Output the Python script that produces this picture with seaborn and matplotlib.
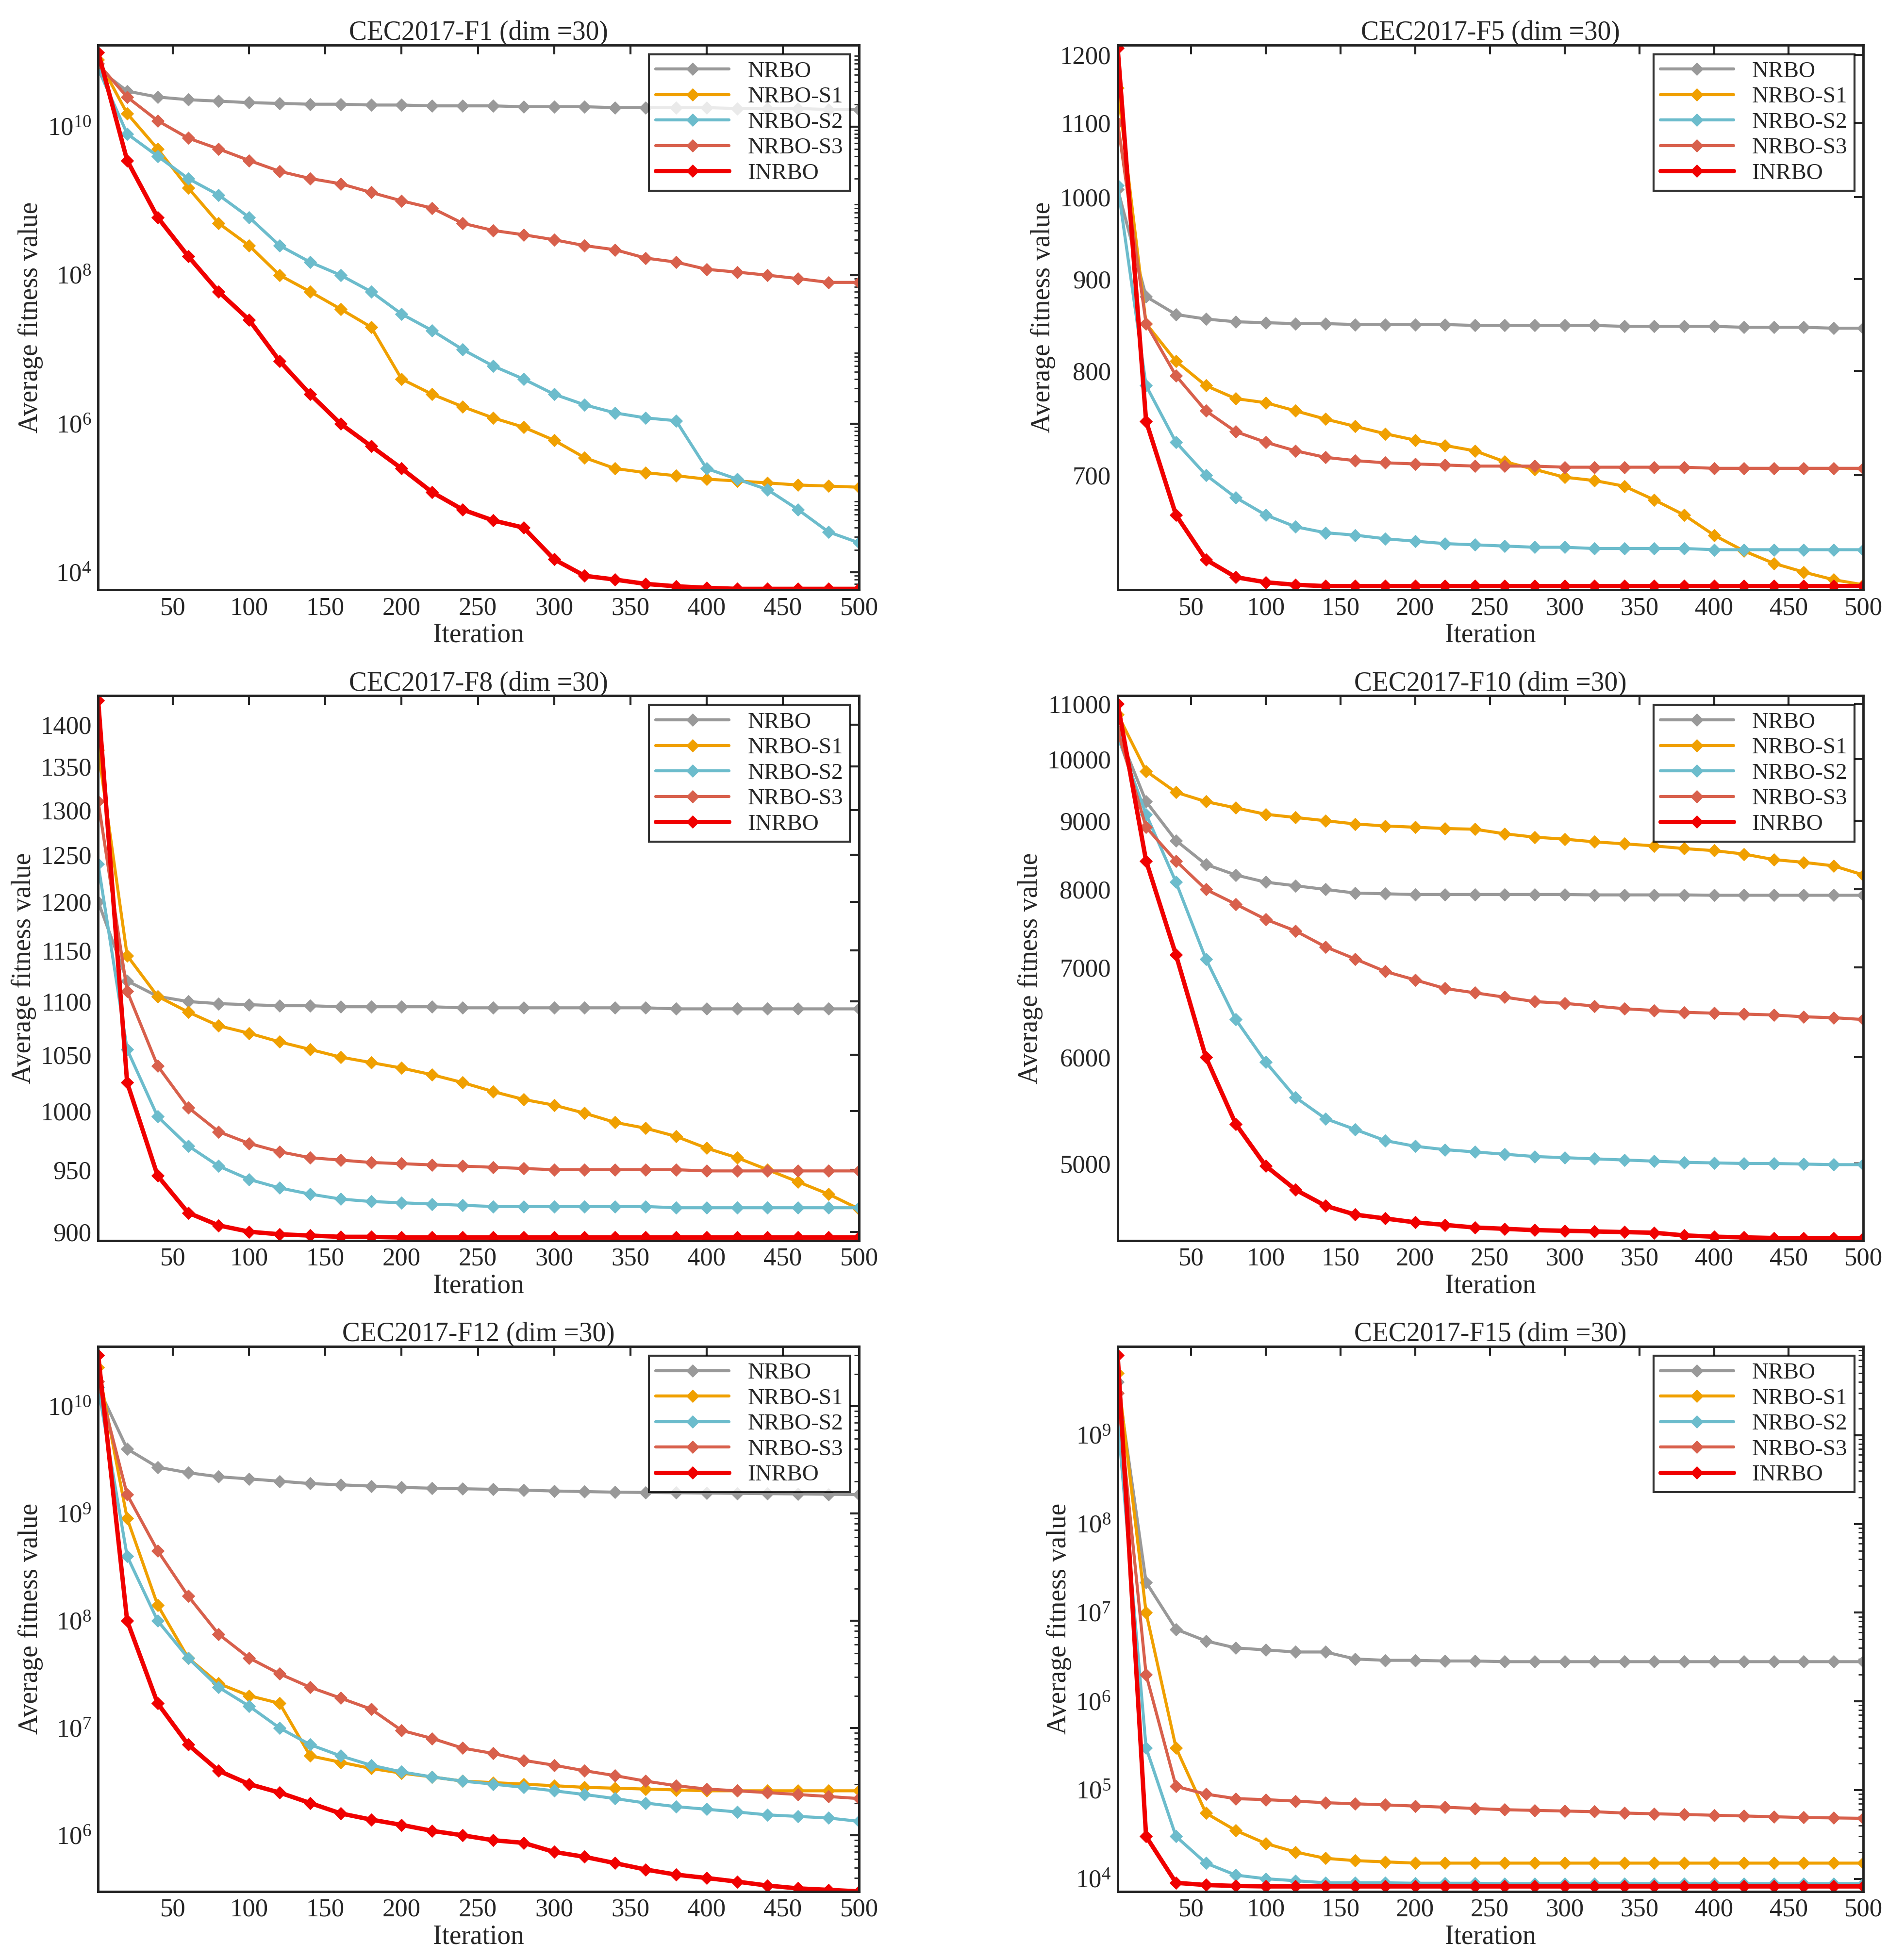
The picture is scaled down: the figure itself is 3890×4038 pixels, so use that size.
import matplotlib
matplotlib.use("Agg")
import matplotlib.pyplot as plt
import matplotlib.ticker as mticker
import numpy as np
import pandas as pd
import seaborn as sns

sns.set_style("white")
plt.rcParams['font.family'] = ['Liberation Serif', 'DejaVu Serif']
plt.rcParams['mathtext.fontset'] = 'stix'

iters = [1] + list(range(20, 501, 20))
algos = ['NRBO', 'NRBO-S1', 'NRBO-S2', 'NRBO-S3', 'INRBO']
colors = ['#999999', '#f0a000', '#6cbccc', '#d8604c', '#f00000']

# ---- CEC2017-F1 ----
f1_nrbo = [6e10, 3e10, 2.5e10, 2.3e10, 2.2e10, 2.1e10, 2.05e10, 2e10, 2e10, 1.95e10, 1.95e10, 1.9e10, 1.9e10,
           1.9e10, 1.85e10, 1.85e10, 1.85e10, 1.8e10, 1.8e10, 1.8e10, 1.8e10, 1.75e10, 1.75e10, 1.75e10, 1.7e10, 1.7e10]
f1_s1 = [8e10, 1.5e10, 5e9, 1.5e9, 5e8, 2.5e8, 1e8, 6e7, 3.5e7, 2e7, 4e6, 2.5e6, 1.7e6, 1.2e6, 9e5, 6e5, 3.5e5,
         2.5e5, 2.2e5, 2e5, 1.8e5, 1.7e5, 1.6e5, 1.5e5, 1.45e5, 1.4e5]
f1_s2 = [6e10, 8e9, 4e9, 2e9, 1.2e9, 6e8, 2.5e8, 1.5e8, 1e8, 6e7, 3e7, 1.8e7, 1e7, 6e6, 4e6, 2.5e6, 1.8e6, 1.4e6,
         1.2e6, 1.1e6, 2.5e5, 1.8e5, 1.3e5, 7e4, 3.5e4, 2.5e4]
f1_s3 = [7e10, 2.5e10, 1.2e10, 7e9, 5e9, 3.5e9, 2.5e9, 2e9, 1.7e9, 1.3e9, 1e9, 8e8, 5e8, 4e8, 3.5e8, 3e8, 2.5e8,
         2.2e8, 1.7e8, 1.5e8, 1.2e8, 1.1e8, 1e8, 9e7, 8e7, 8e7]
f1_inrbo = [1e11, 3.5e9, 6e8, 1.8e8, 6e7, 2.5e7, 7e6, 2.5e6, 1e6, 5e5, 2.5e5, 1.2e5, 7e4, 5e4, 4e4, 1.5e4, 9e3,
            8e3, 7e3, 6.5e3, 6.2e3, 6e3, 6e3, 6e3, 6e3, 6e3]

# ---- CEC2017-F5 ----
f5_nrbo = [1010, 880, 860, 855, 852, 851, 850, 850, 849, 849, 849, 849, 848, 848, 848, 848, 848, 847, 847, 847,
           847, 846, 846, 846, 845, 845]
f5_s1 = [1150, 850, 810, 785, 772, 768, 760, 752, 745, 738, 732, 727, 722, 712, 705, 698, 695, 690, 678, 665,
         648, 635, 625, 618, 612, 608]
f5_s2 = [1015, 785, 730, 700, 680, 665, 655, 650, 648, 645, 643, 641, 640, 639, 638, 638, 637, 637, 637, 637,
         636, 636, 636, 636, 636, 636]
f5_s3 = [1100, 850, 795, 760, 740, 730, 722, 716, 713, 711, 710, 709, 708, 708, 708, 707, 707, 707, 707, 707,
         706, 706, 706, 706, 706, 706]
f5_inrbo = [1210, 750, 665, 628, 614, 610, 608, 607, 607, 607, 607, 607, 607, 607, 607, 607, 607, 607, 607, 607,
            607, 607, 607, 607, 607, 607]

# ---- CEC2017-F8 ----
f8_nrbo = [1200, 1120, 1105, 1100, 1098, 1097, 1096, 1096, 1095, 1095, 1095, 1095, 1094, 1094, 1094, 1094, 1094,
           1094, 1094, 1093, 1093, 1093, 1093, 1093, 1093, 1093]
f8_s1 = [1370, 1145, 1105, 1090, 1077, 1070, 1062, 1055, 1048, 1043, 1038, 1032, 1025, 1017, 1010, 1005, 998, 990,
         985, 978, 968, 960, 950, 940, 930, 918]
f8_s2 = [1240, 1055, 995, 970, 953, 942, 935, 930, 926, 924, 923, 922, 921, 920, 920, 920, 920, 920, 920, 919,
         919, 919, 919, 919, 919, 919]
f8_s3 = [1310, 1110, 1040, 1003, 982, 972, 965, 960, 958, 956, 955, 954, 953, 952, 951, 950, 950, 950, 950, 950,
         949, 949, 949, 949, 949, 949]
f8_inrbo = [1430, 1025, 945, 915, 905, 900, 898, 897, 896, 896, 895.5, 895.5, 895.5, 895.5, 895.5, 895.5, 895.5,
            895.5, 895.5, 895.5, 895.5, 895.5, 895.5, 895.5, 895.5, 895.5]

# ---- CEC2017-F10 ----
f10_nrbo = [10500, 9300, 8700, 8350, 8200, 8100, 8050, 8000, 7950, 7940, 7930, 7930, 7930, 7930, 7930, 7930, 7925,
            7925, 7925, 7925, 7920, 7920, 7920, 7920, 7920, 7920]
f10_s1 = [10800, 9800, 9450, 9300, 9200, 9100, 9050, 9000, 8950, 8920, 8900, 8880, 8870, 8800, 8750, 8720, 8680,
          8650, 8620, 8580, 8550, 8500, 8420, 8380, 8330, 8200]
f10_s2 = [10400, 9100, 8100, 7100, 6400, 5950, 5600, 5400, 5300, 5200, 5150, 5120, 5100, 5080, 5060, 5050, 5040,
          5030, 5020, 5010, 5005, 5000, 5000, 4995, 4990, 4990]
f10_s3 = [10500, 8900, 8400, 8000, 7800, 7600, 7450, 7250, 7100, 6950, 6850, 6750, 6700, 6650, 6600, 6580, 6550,
          6520, 6500, 6480, 6470, 6460, 6450, 6430, 6420, 6400]
f10_inrbo = [11000, 8400, 7150, 6000, 5350, 4980, 4780, 4650, 4580, 4550, 4520, 4500, 4480, 4470, 4460, 4455,
             4450, 4445, 4440, 4420, 4410, 4405, 4400, 4400, 4400, 4400]

# ---- CEC2017-F12 ----
f12_nrbo = [1.5e10, 4e9, 2.7e9, 2.4e9, 2.2e9, 2.1e9, 2e9, 1.9e9, 1.85e9, 1.8e9, 1.75e9, 1.72e9, 1.7e9, 1.68e9,
            1.65e9, 1.62e9, 1.6e9, 1.58e9, 1.57e9, 1.56e9, 1.55e9, 1.54e9, 1.53e9, 1.52e9, 1.51e9, 1.5e9]
f12_s1 = [2.3e10, 9e8, 1.4e8, 4.5e7, 2.6e7, 2e7, 1.7e7, 5.5e6, 4.8e6, 4.2e6, 3.8e6, 3.5e6, 3.2e6, 3.1e6, 3e6,
          2.9e6, 2.8e6, 2.75e6, 2.7e6, 2.65e6, 2.6e6, 2.6e6, 2.6e6, 2.6e6, 2.6e6, 2.6e6]
f12_s2 = [1.5e10, 4e8, 1e8, 4.5e7, 2.4e7, 1.6e7, 1e7, 7e6, 5.5e6, 4.5e6, 3.9e6, 3.5e6, 3.2e6, 3e6, 2.8e6, 2.6e6,
          2.4e6, 2.2e6, 2e6, 1.85e6, 1.75e6, 1.65e6, 1.55e6, 1.5e6, 1.45e6, 1.35e6]
f12_s3 = [1.7e10, 1.5e9, 4.5e8, 1.7e8, 7.5e7, 4.5e7, 3.2e7, 2.4e7, 1.9e7, 1.5e7, 9.5e6, 8e6, 6.5e6, 5.8e6, 5e6,
          4.5e6, 4e6, 3.6e6, 3.2e6, 2.9e6, 2.7e6, 2.6e6, 2.5e6, 2.4e6, 2.3e6, 2.2e6]
f12_inrbo = [3e10, 1e8, 1.7e7, 7e6, 4e6, 3e6, 2.5e6, 2e6, 1.6e6, 1.4e6, 1.25e6, 1.1e6, 1e6, 9e5, 8.5e5, 7e5, 6.3e5,
             5.5e5, 4.8e5, 4.3e5, 4e5, 3.7e5, 3.4e5, 3.2e5, 3.1e5, 3e5]

# ---- CEC2017-F15 ----
f15_nrbo = [4e9, 2.2e7, 6.5e6, 4.8e6, 4e6, 3.8e6, 3.6e6, 3.6e6, 3e6, 2.9e6, 2.9e6, 2.85e6, 2.85e6, 2.8e6, 2.8e6,
            2.8e6, 2.8e6, 2.8e6, 2.8e6, 2.8e6, 2.8e6, 2.8e6, 2.8e6, 2.8e6, 2.8e6, 2.8e6]
f15_s1 = [5e9, 1e7, 3e5, 5.5e4, 3.5e4, 2.5e4, 2e4, 1.7e4, 1.6e4, 1.55e4, 1.5e4, 1.5e4, 1.5e4, 1.5e4, 1.5e4, 1.5e4,
          1.5e4, 1.5e4, 1.5e4, 1.5e4, 1.5e4, 1.5e4, 1.5e4, 1.5e4, 1.5e4, 1.5e4]
f15_s2 = [1.5e9, 3e5, 3e4, 1.5e4, 1.1e4, 1e4, 9.5e3, 9e3, 9e3, 9e3, 8.9e3, 8.9e3, 8.9e3, 8.8e3, 8.8e3, 8.8e3,
          8.8e3, 8.8e3, 8.8e3, 8.8e3, 8.8e3, 8.8e3, 8.8e3, 8.8e3, 8.8e3, 8.8e3]
f15_s3 = [3e9, 2e6, 1.1e5, 9e4, 8e4, 7.8e4, 7.5e4, 7.2e4, 7e4, 6.8e4, 6.6e4, 6.4e4, 6.2e4, 6e4, 5.9e4, 5.8e4,
          5.7e4, 5.5e4, 5.4e4, 5.3e4, 5.2e4, 5.1e4, 5e4, 4.9e4, 4.85e4, 4.8e4]
f15_inrbo = [8e9, 3e4, 9e3, 8.5e3, 8.3e3, 8.2e3, 8.2e3, 8.2e3, 8.2e3, 8.2e3, 8.2e3, 8.2e3, 8.2e3, 8.2e3, 8.2e3,
             8.2e3, 8.2e3, 8.2e3, 8.2e3, 8.2e3, 8.2e3, 8.2e3, 8.2e3, 8.2e3, 8.2e3, 8.2e3]

panels = [
    ('CEC2017-F1 (dim =30)', [f1_nrbo, f1_s1, f1_s2, f1_s3, f1_inrbo], (5.8e3, 1.25e11), [1e4, 1e6, 1e8, 1e10], True),
    ('CEC2017-F5 (dim =30)', [f5_nrbo, f5_s1, f5_s2, f5_s3, f5_inrbo], (604, 1215), list(range(700, 1201, 100)), False),
    ('CEC2017-F8 (dim =30)', [f8_nrbo, f8_s1, f8_s2, f8_s3, f8_inrbo], (893, 1436), list(range(900, 1401, 50)), False),
    ('CEC2017-F10 (dim =30)', [f10_nrbo, f10_s1, f10_s2, f10_s3, f10_inrbo], (4380, 11150), list(range(5000, 11001, 1000)), False),
    ('CEC2017-F12 (dim =30)', [f12_nrbo, f12_s1, f12_s2, f12_s3, f12_inrbo], (3e5, 3.6e10), [1e6, 1e7, 1e8, 1e9, 1e10], True),
    ('CEC2017-F15 (dim =30)', [f15_nrbo, f15_s1, f15_s2, f15_s3, f15_inrbo], (7.2e3, 1e10), [1e4, 1e5, 1e6, 1e7, 1e8, 1e9], True),
]

fig = plt.figure(figsize=(38.9, 40.38), dpi=100)
lefts = [0.052, 0.592]
widths = [0.403, 0.395]
bottoms = [0.699, 0.367, 0.035]
height = 0.278

for k, (title, series, ylim, yticks, powers) in enumerate(panels):
    r, c = divmod(k, 2)
    ax = fig.add_axes([lefts[c], bottoms[r], widths[c], height])
    for name, vals, col in zip(algos, series, colors):
        df = pd.DataFrame({'Iteration': iters, 'value': vals})
        lw = 6.5 if name == 'INRBO' else 4.5
        sns.lineplot(data=df, x='Iteration', y='value', ax=ax, color=col, lw=lw, marker='D',
                     markersize=13, markeredgecolor=col, label=name)
    ax.set_yscale('log')
    ax.set_xlim(1, 500)
    ax.set_ylim(*ylim)
    ax.set_xticks(range(50, 501, 50))
    ax.set_yticks(yticks)
    if powers:
        ax.yaxis.set_major_formatter(mticker.LogFormatterMathtext())
        ax.yaxis.set_minor_locator(mticker.LogLocator(base=10, subs=np.arange(2, 10), numticks=30))
        ax.yaxis.set_minor_formatter(mticker.NullFormatter())
    else:
        ax.yaxis.set_major_formatter(mticker.FormatStrFormatter('%d'))
        ax.yaxis.set_minor_locator(mticker.NullLocator())
        ax.yaxis.set_minor_formatter(mticker.NullFormatter())
    ax.tick_params(axis='both', which='major', direction='in', length=14, width=3, labelsize=38,
                   top=True, right=True, pad=10)
    ax.tick_params(axis='y', which='minor', direction='in', length=7, width=2, right=True)
    for sp in ax.spines.values():
        sp.set_linewidth(3.5)
        sp.set_color('#222222')
    ax.set_title(title, fontsize=40, pad=8)
    ax.set_xlabel('Iteration', fontsize=40, labelpad=4)
    ax.set_ylabel('Average fitness value', fontsize=40, labelpad=6)
    leg = ax.legend(loc='upper right', fontsize=34, frameon=True, fancybox=False, borderpad=0.3,
                    handlelength=3.2, labelspacing=0.2, borderaxespad=0.4)
    leg.get_frame().set_edgecolor('black')
    leg.get_frame().set_linewidth(3)

fig.savefig('out.png', dpi=100)
